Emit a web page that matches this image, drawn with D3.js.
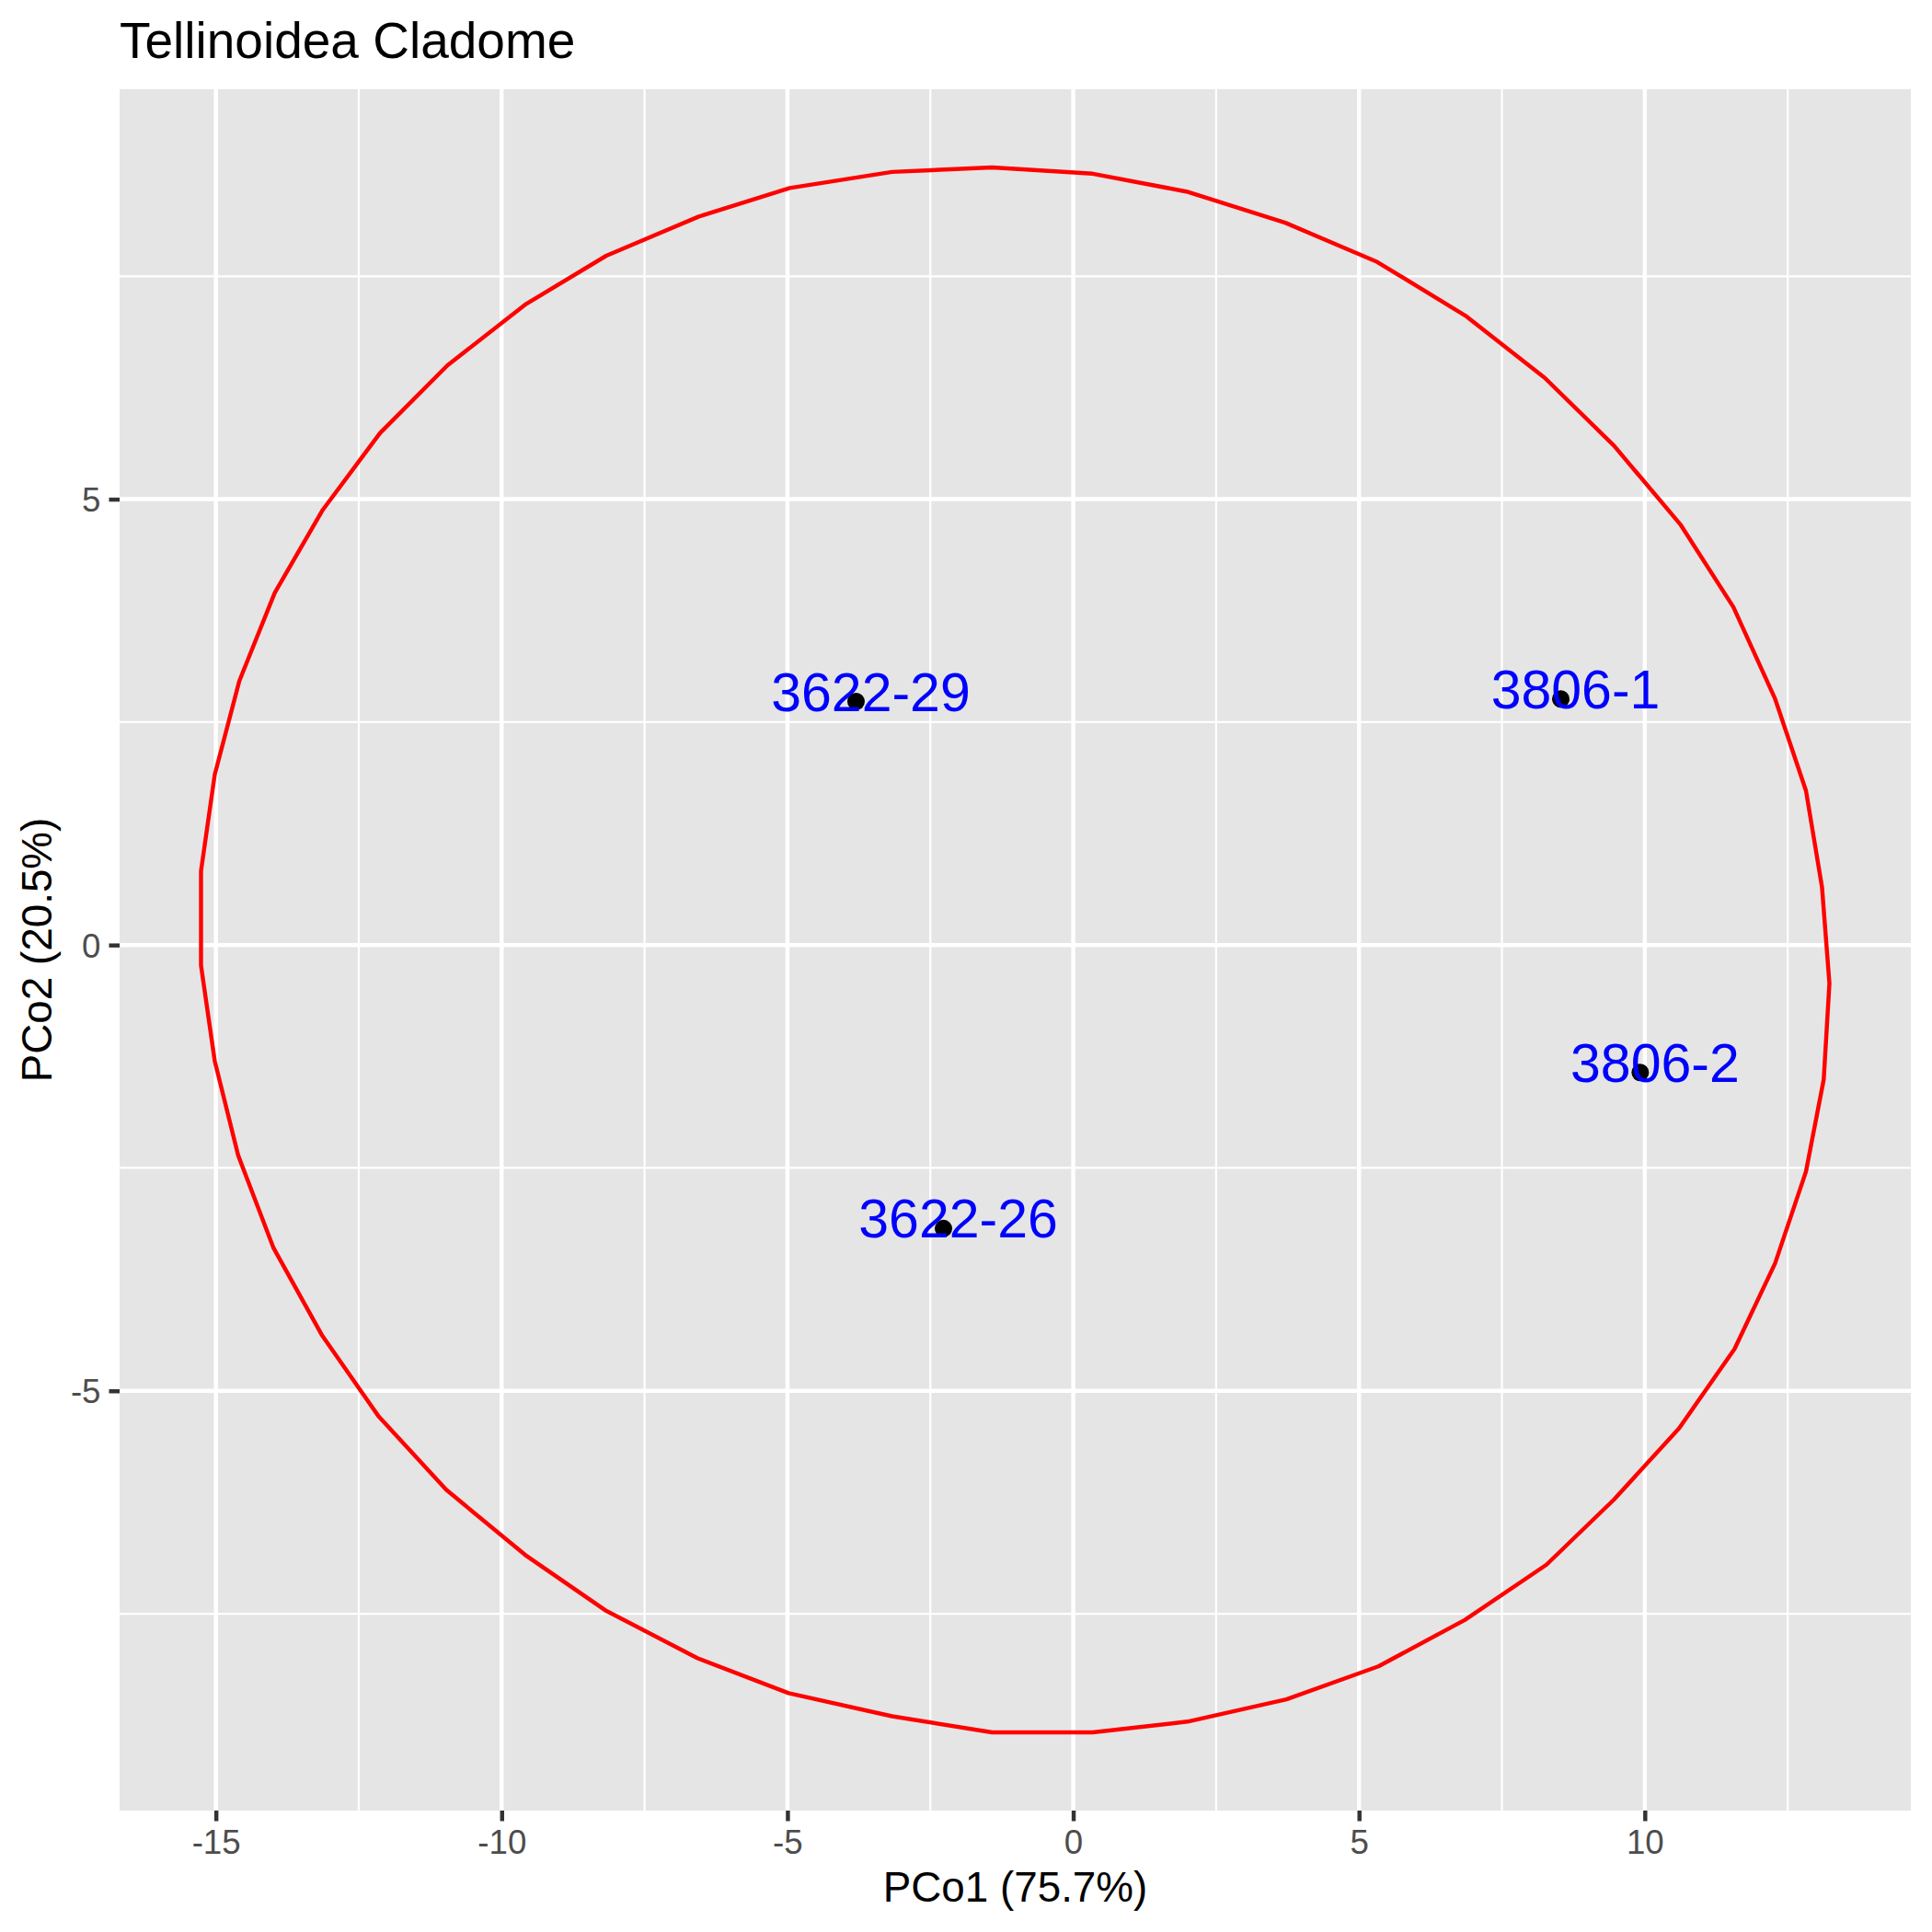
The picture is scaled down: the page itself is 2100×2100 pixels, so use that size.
<!DOCTYPE html>
<html>
<head>
<meta charset="utf-8">
<script src="https://cdn.jsdelivr.net/npm/d3@7"></script>
<style>
  body { margin: 0; background: #fff; }
  svg { display: block; font-family: "Liberation Sans", Arial, sans-serif; }
</style>
</head>
<body>
<script>
// Échantillons (points + étiquettes)
const sampleNames = ["3622-29", "3806-1", "3806-2", "3622-26"];
const pco1 = [-3.80, 8.53, 9.92, -2.27];
const pco2 = [2.73, 2.76, -1.43, -3.18];

// Ellipse (sommets du polygone)
const ellipseX = [13.23, 13.10, 12.82, 12.28, 11.55, 10.63, 9.46, 8.25, 6.88, 5.32,
  3.71, 1.98, 0.34, -1.42, -3.17, -4.96, -6.55, -8.17, -9.57, -10.95,
  -12.13, -13.13, -13.97, -14.59, -15.02, -15.26, -15.26, -15.02, -14.61, -13.99,
  -13.15, -12.16, -10.97, -9.59, -8.19, -6.57, -4.98, -3.17, -1.42, 0.34,
  2.00, 3.73, 5.34, 6.85, 8.28, 9.46, 10.60, 11.57, 12.28, 12.82, 13.13];
const ellipseY = [-0.43, 0.65, 1.73, 2.76, 3.79, 4.71, 5.60, 6.36, 7.05, 7.66,
  8.10, 8.45, 8.65, 8.72, 8.67, 8.49, 8.17, 7.73, 7.19, 6.50,
  5.74, 4.88, 3.95, 2.96, 1.91, 0.83, -0.23, -1.30, -2.36, -3.40,
  -4.37, -5.28, -6.11, -6.84, -7.46, -8.00, -8.39, -8.65, -8.83, -8.83,
  -8.71, -8.46, -8.09, -7.57, -6.95, -6.22, -5.42, -4.53, -3.57, -2.54, -1.51];

const xTicks = [-15, -10, -5, 0, 5, 10];
const yTicks = [-5, 0, 5];

const titleText = "Tellinoidea Cladome";
const xTitle = "PCo1 (75.7%)";
const yTitle = "PCo2 (20.5%)";

const width = 2100, height = 2100;
const panel = { left: 130, right: 2077, top: 97, bottom: 1968 };

const svg = d3.select("body").append("svg")
  .attr("width", width).attr("height", height);

svg.append("rect").attr("width", width).attr("height", height).attr("fill", "#fff");

// Domaines avec expansion de 5 % (comme ggplot)
const allX = ellipseX.concat(pco1), allY = ellipseY.concat(pco2);
function expand(ext) {
  const d = (ext[1] - ext[0]) * 0.05;
  return [ext[0] - d, ext[1] + d];
}
const x = d3.scaleLinear().domain(expand(d3.extent(allX))).range([panel.left, panel.right]);
const y = d3.scaleLinear().domain(expand(d3.extent(allY))).range([panel.bottom, panel.top]);

function minorOf(ticks, scale) {
  const step = ticks[1] - ticks[0];
  const dom = scale.domain();
  const out = [];
  for (let i = -1; i < ticks.length; i++) {
    const v = ticks[0] + step * i + step / 2;
    if (v > dom[0] && v < dom[1]) out.push(v);
  }
  return out;
}

// Panneau gris
svg.append("rect")
  .attr("x", panel.left).attr("y", panel.top)
  .attr("width", panel.right - panel.left).attr("height", panel.bottom - panel.top)
  .attr("fill", "#E5E5E5");

const grid = svg.append("g");
minorOf(xTicks, x).forEach(v => grid.append("line")
  .attr("x1", x(v)).attr("x2", x(v)).attr("y1", panel.top).attr("y2", panel.bottom)
  .attr("stroke", "#fff").attr("stroke-width", 2.2));
minorOf(yTicks, y).forEach(v => grid.append("line")
  .attr("y1", y(v)).attr("y2", y(v)).attr("x1", panel.left).attr("x2", panel.right)
  .attr("stroke", "#fff").attr("stroke-width", 2.2));
xTicks.forEach(v => grid.append("line")
  .attr("x1", x(v)).attr("x2", x(v)).attr("y1", panel.top).attr("y2", panel.bottom)
  .attr("stroke", "#fff").attr("stroke-width", 4.45));
yTicks.forEach(v => grid.append("line")
  .attr("y1", y(v)).attr("y2", y(v)).attr("x1", panel.left).attr("x2", panel.right)
  .attr("stroke", "#fff").attr("stroke-width", 4.45));

// Axes (trait d'union simple comme dans R)
const fmt = d => String(d);
const xAxis = svg.append("g")
  .attr("transform", `translate(0,${panel.bottom})`)
  .call(d3.axisBottom(x).tickValues(xTicks).tickSize(11.5).tickPadding(9).tickFormat(fmt));
const yAxis = svg.append("g")
  .attr("transform", `translate(${panel.left},0)`)
  .call(d3.axisLeft(y).tickValues(yTicks).tickSize(11.5).tickPadding(9).tickFormat(fmt));

[xAxis, yAxis].forEach(a => {
  a.select(".domain").remove();
  a.selectAll(".tick line").attr("stroke", "#333333").attr("stroke-width", 4.45);
  a.selectAll(".tick text")
    .attr("fill", "#4D4D4D")
    .style("font-size", "36.7px")
    .style("font-family", "'Liberation Sans', Arial, sans-serif");
});
xAxis.selectAll(".tick text").attr("dy", "0.71em");
yAxis.selectAll(".tick text").attr("dy", "0.36em");

// Ellipse
const line = d3.line()
  .x(i => x(ellipseX[i]))
  .y(i => y(ellipseY[i]))
  .curve(d3.curveLinearClosed);
svg.append("path")
  .attr("d", line(d3.range(ellipseX.length)))
  .attr("fill", "none")
  .attr("stroke", "#FF0000")
  .attr("stroke-width", 4.45)
  .attr("stroke-linejoin", "round");

// Points
svg.append("g").selectAll("circle")
  .data(sampleNames)
  .join("circle")
  .attr("cx", (d, i) => x(pco1[i]))
  .attr("cy", (d, i) => y(pco2[i]))
  .attr("r", 9.5)
  .attr("fill", "#000");

// Étiquettes
svg.append("g").selectAll("text")
  .data(sampleNames)
  .join("text")
  .attr("x", (d, i) => x(pco1[i]) + 16)
  .attr("y", (d, i) => y(pco2[i]) + 10)
  .attr("text-anchor", "middle")
  .attr("fill", "#0000FF")
  .style("font-size", "59px")
  .text(d => d);

// Titres
svg.append("text")
  .attr("x", panel.left).attr("y", 63)
  .style("font-size", "55px").attr("fill", "#000")
  .text(titleText);

svg.append("text")
  .attr("x", (panel.left + panel.right) / 2).attr("y", 2067)
  .attr("text-anchor", "middle")
  .style("font-size", "45.8px").attr("fill", "#000")
  .text(xTitle);

svg.append("text")
  .attr("transform", `translate(56,${(panel.top + panel.bottom) / 2}) rotate(-90)`)
  .attr("text-anchor", "middle")
  .style("font-size", "45.8px").attr("fill", "#000")
  .text(yTitle);
</script>
</body>
</html>
